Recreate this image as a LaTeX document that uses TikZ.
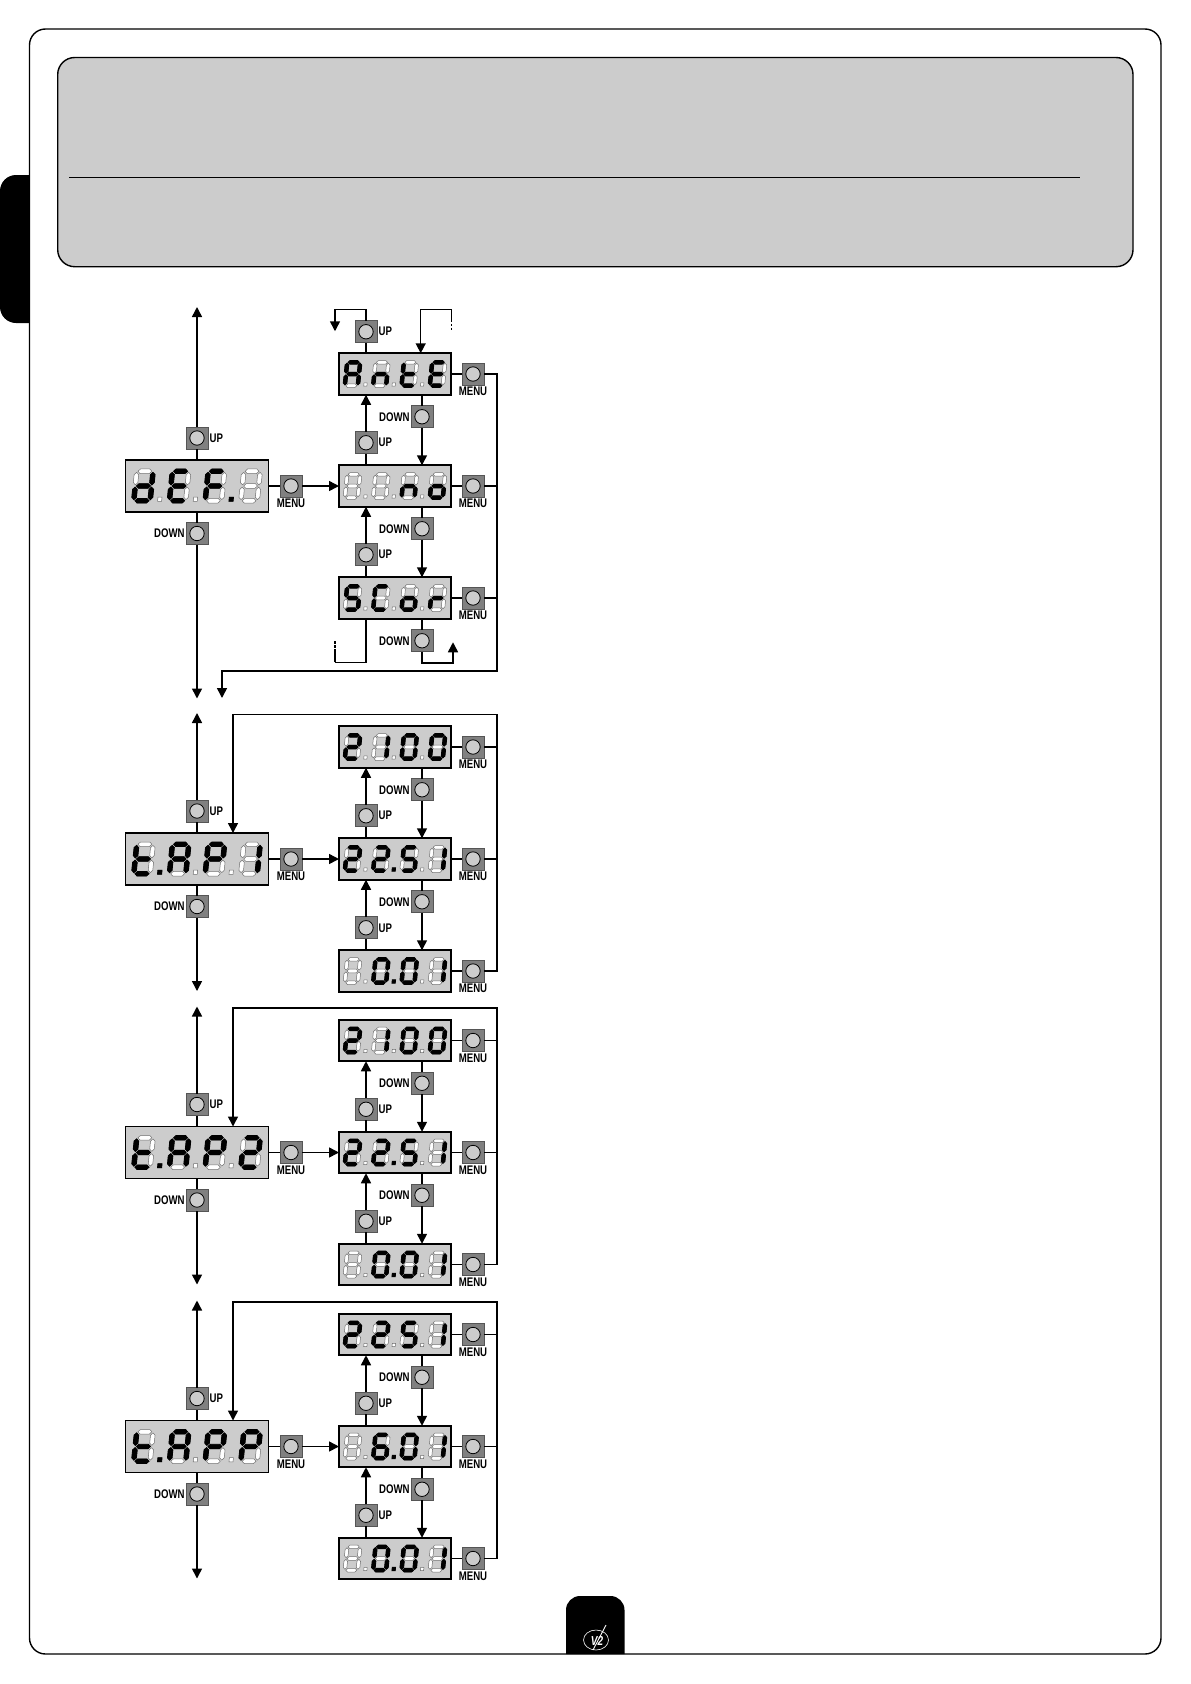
\documentclass[tikz,border=0pt]{standalone}
\usepackage{fontspec}
\setsansfont[FakeStretch=0.77]{Liberation Sans}
\usetikzlibrary{arrows.meta,positioning}
\definecolor{panel}{HTML}{CCCCCC}
\definecolor{keygrey}{HTML}{808080}
\definecolor{keyedge}{HTML}{555555}
\definecolor{segdim}{HTML}{707070}
\newcommand{\hseg}[1]{(-5.5,#1)--(-3.7,#1-1.8)--(3.7,#1-1.8)--(5.5,#1)--(3.7,#1+1.8)--(-3.7,#1+1.8)--cycle}
\newcommand{\vseg}[3]{(#1,#2)--(#1+1.8,#2+1.8)--(#1+1.8,#3-1.8)--(#1,#3)--(#1-1.8,#3-1.8)--(#1-1.8,#2+1.8)--cycle}
\tikzset{
  seg a/.pic={\path[pic actions] \hseg{-11.7};},
  seg b/.pic={\path[pic actions] \vseg{6.5}{-10.8}{-0.9};},
  seg c/.pic={\path[pic actions] \vseg{6.5}{0.9}{10.8};},
  seg d/.pic={\path[pic actions] \hseg{11.7};},
  seg e/.pic={\path[pic actions] \vseg{-6.5}{0.9}{10.8};},
  seg f/.pic={\path[pic actions] \vseg{-6.5}{-10.8}{-0.9};},
  seg g/.pic={\path[pic actions] \hseg{0};},
  seg p/.pic={\path[pic actions] (12.4,8.9) rectangle (15.6,12.1);},
  seg x/.pic={},
  segoff/.style={transform shape,fill=white,draw=segdim,line width=.5pt},
  segon/.style={transform shape,fill=black,draw=black,line width=.9pt},
  base/.style={rectangle,draw=black,line width=1.7pt,fill=panel,outer sep=0pt,inner sep=0pt},
  bigdisp/.style={base,minimum width=143pt,minimum height=52pt},
  smalldisp/.style={base,minimum width=112pt,minimum height=41.5pt},
  btntext/.style={font=\sffamily\bfseries\fontsize{12.5}{12.5}\selectfont,inner sep=0pt,text=black},
  btn/.style={rectangle,draw=keyedge,line width=.8pt,fill=keygrey,minimum size=22pt,inner sep=0pt,outer sep=0pt,
    path picture={\draw[fill=panel,draw=black,line width=.8pt] (path picture bounding box.center) circle (7.2pt);}},
  btnup/.style={btn,label={[btntext,label distance=1.5pt]right:UP}},
  btndown/.style={btn,label={[btntext,label distance=1.2pt]left:DOWN}},
  btnmenu/.style={btn,label={[btntext,label distance=2pt]below:MENU}},
  wire/.style={line width=1.5pt,draw=black},
  flow/.style={wire,-{Triangle[length=10pt,width=10pt]}},
  dashwire/.style={wire,dash pattern=on 13pt off 1.5pt on 2.5pt off 1.5pt on 2.5pt},
}
\newcommand{\segdigit}[3]{%
  \begin{scope}[shift={(#1,0)},xslant=.1]
    \foreach \s in {#2} \pic[segoff] {seg \s};
    \foreach \s in {#3} \pic[segon] {seg \s};
  \end{scope}}
\newcommand{\segdisp}[6]{%
  \begin{scope}[shift={(#1.center)},scale=#2]
    \segdigit{-42.5}{a,...,g,p}{#3}
    \segdigit{-14.2}{a,...,g,p}{#4}
    \segdigit{14.2}{a,...,g,p}{#5}
    \segdigit{42.5}{a,...,g}{#6}
  \end{scope}}

\begin{document}
\begin{tikzpicture}[x=1pt,y=-1pt]
\useasboundingbox (0,0) rectangle (1191,1684);

% page frame and header
\fill[black] (29.5,175) [rounded corners=16pt] -- (0,175) -- (0,323) [sharp corners] -- (29.5,323) -- cycle;
\fill[black] (566,1654) [rounded corners=14pt] -- (566,1596) -- (624.5,1596) [sharp corners] -- (624.5,1654) -- cycle;
\draw[line width=1.4pt,rounded corners=16pt] (29.5,29) rectangle (1161,1654);
\draw[line width=1.4pt,fill=panel,rounded corners=17pt] (57.7,57.5) rectangle (1133,266.7);
\draw[line width=.8pt] (69,177) -- (1080,177);
\node[inner sep=0pt,text=white,font=\sffamily\bfseries\itshape\fontsize{13}{13}\selectfont] (logo) at (597,1641) {V2};
\draw[white,line width=.6pt] (596,1640) ellipse (12.5 and 10);
\draw[white,line width=.9pt] (593,1650) -- (606,1625);

% def menu
\node[bigdisp] (def) at (197,486) {};
\node[btnup,above=11pt of def] (defup) {};
\node[btndown,below=10.5pt of def] (defdown) {};
\node[btnmenu,right=11.5pt of def] (defmenu) {};
\node[smalldisp,right=37pt of defmenu] (no) {};
\node[smalldisp,above=70.5pt of no] (ante) {};
\node[smalldisp,below=70.5pt of no] (scor) {};
\node[btnup,above=10.5pt of ante,xshift=-29pt] (anteup) {};
\node[btndown,below=11pt of ante,xshift=27pt] (antedown) {};
\node[btnup,above=11.5pt of no,xshift=-29pt] (noup) {};
\node[btndown,below=11pt of no,xshift=27pt] (nodown) {};
\node[btnup,above=11.5pt of scor,xshift=-29pt] (scorup) {};
\node[btndown,below=11pt of scor,xshift=27pt] (scordown) {};
\node[btnmenu,right=11pt of ante] (antemenu) {};
\node[btnmenu,right=11pt of no] (nomenu) {};
\node[btnmenu,right=11pt of scor] (scormenu) {};
\coordinate[above=120pt of defup.north] (deftop);
\coordinate[below=154pt of defdown.south] (defbottom);
\coordinate[right=13pt of antemenu.east] (anterail);
\coordinate (defturn) at (222,671);
\coordinate[below=27pt of defturn] (defback);
\coordinate[above left=22.5pt and 31pt of anteup.center] (antecorner);
\coordinate[below=22pt of antecorner] (antedrop);
\coordinate[right=25.7pt of ante.north] (antein);
\coordinate[above=44pt of antein] (anteturn);
\coordinate[right=31pt of anteturn] (antewrap);
\coordinate[below=21pt of antewrap] (anteend);
\coordinate[below left=43.7pt and 29pt of scor.south] (scorturn);
\coordinate[left=31pt of scorturn] (scorwrap);
\coordinate[above=21pt of scorwrap] (scorend);
\coordinate[below right=22pt and 31pt of scordown.center] (scorcorner);
\coordinate[above=20.5pt of scorcorner] (scorrise);

\draw[wire] (def) -- (defup);
\draw[flow] (defup) -- (deftop);
\draw[wire] (def) -- (defdown);
\draw[flow] (defdown) -- (defbottom);
\draw[wire] (def) -- (defmenu);
\draw[flow] (defmenu) -- (no);
\draw[wire] (ante.north -| anteup) -- (anteup);
\draw[flow] (anteup) |- (antecorner) -- (antedrop);
\draw[flow] (antewrap) -- (anteturn) -- (antein);
\draw[dashwire] (antewrap) -- (anteend);
\draw[wire] (ante.south -| antedown) -- (antedown);
\draw[flow] (antedown) -- (antedown |- no.north);
\draw[wire] (no.north -| noup) -- (noup);
\draw[flow] (noup) -- (noup |- ante.south);
\draw[wire] (no.south -| nodown) -- (nodown);
\draw[flow] (nodown) -- (nodown |- scor.north);
\draw[wire] (scor.north -| scorup) -- (scorup);
\draw[flow] (scorup) -- (scorup |- no.south);
\draw[wire] (scor.south -| scordown) -- (scordown);
\draw[flow] (scordown) |- (scorcorner) -- (scorrise);
\draw[wire] (scor.south -| scorturn) -- (scorturn) -- (scorwrap);
\draw[dashwire] (scorwrap) -- (scorend);
\draw[wire] (ante) -- (antemenu);
\draw[wire] (no) -- (nomenu);
\draw[wire] (scor) -- (scormenu);
\draw[wire] (nomenu) -- (nomenu -| anterail);
\draw[wire] (scormenu) -- (scormenu -| anterail);
\draw[flow] (antemenu) -- (anterail) |- (defturn) -- (defback);

\segdisp{def}{1.26}{b,c,d,e,g}{a,d,e,f,g}{a,e,f,g,p}{x}
\segdisp{ante}{1}{a,b,c,e,f,g}{c,e,g}{d,e,f,g}{a,d,e,f,g}
\segdisp{no}{1}{x}{x}{c,e,g}{c,d,e,g}
\segdisp{scor}{1}{a,c,d,f,g}{a,d,e,f}{c,d,e,g}{e,g}

% tap1 menu
\node[bigdisp] (tapa) at (197,859) {};
\node[btnup,above=11pt of tapa] (tapaup) {};
\node[btndown,below=10.5pt of tapa] (tapadown) {};
\node[btnmenu,right=11.5pt of tapa] (tapamenu) {};
\node[smalldisp,right=37pt of tapamenu] (tapamid) {};
\node[smalldisp,above=70.5pt of tapamid] (tapatop) {};
\node[smalldisp,below=70.5pt of tapamid] (tapalow) {};
\node[btndown,below=11pt of tapatop,xshift=27pt] (tapatopdown) {};
\node[btnup,above=11.5pt of tapamid,xshift=-29pt] (tapamidup) {};
\node[btndown,below=11pt of tapamid,xshift=27pt] (tapamiddown) {};
\node[btnup,above=11.5pt of tapalow,xshift=-29pt] (tapalowup) {};
\node[btnmenu,right=11pt of tapatop] (tapatopmenu) {};
\node[btnmenu,right=11pt of tapamid] (tapamidmenu) {};
\node[btnmenu,right=11pt of tapalow] (tapalowmenu) {};
\coordinate[above=87pt of tapaup.north] (tapatip);
\coordinate[below=73.5pt of tapadown.south] (tapaend);
\coordinate[right=13pt of tapalowmenu.east] (tapalowrail);
\coordinate[right=36pt of tapa.north] (tapain);
\coordinate[above=118.5pt of tapain] (tapaturn);

\draw[wire] (tapa) -- (tapaup);
\draw[flow] (tapaup) -- (tapatip);
\draw[wire] (tapa) -- (tapadown);
\draw[flow] (tapadown) -- (tapaend);
\draw[wire] (tapa) -- (tapamenu);
\draw[flow] (tapamenu) -- (tapamid);
\draw[wire] (tapatop.south -| tapatopdown) -- (tapatopdown);
\draw[flow] (tapatopdown) -- (tapatopdown |- tapamid.north);
\draw[wire] (tapamid.north -| tapamidup) -- (tapamidup);
\draw[flow] (tapamidup) -- (tapamidup |- tapatop.south);
\draw[wire] (tapamid.south -| tapamiddown) -- (tapamiddown);
\draw[flow] (tapamiddown) -- (tapamiddown |- tapalow.north);
\draw[wire] (tapalow.north -| tapalowup) -- (tapalowup);
\draw[flow] (tapalowup) -- (tapalowup |- tapamid.south);
\draw[wire] (tapatop) -- (tapatopmenu);
\draw[wire] (tapamid) -- (tapamidmenu);
\draw[wire] (tapalow) -- (tapalowmenu);
\draw[wire] (tapatopmenu) -- (tapatopmenu -| tapalowrail);
\draw[wire] (tapamidmenu) -- (tapamidmenu -| tapalowrail);
\draw[flow] (tapalowmenu) -- (tapalowrail) |- (tapaturn) -- (tapain);

\segdisp{tapa}{1.26}{d,e,f,g,p}{a,b,c,e,f,g}{a,b,e,f,g}{b,c}
\segdisp{tapatop}{1}{a,b,d,e,g}{b,c}{a,b,c,d,e,f}{a,b,c,d,e,f}
\segdisp{tapamid}{1}{a,b,d,e,g}{a,b,d,e,g,p}{a,c,d,f,g}{b,c}
\segdisp{tapalow}{1}{x}{a,b,c,d,e,f,p}{a,b,c,d,e,f}{b,c}

% tap2 menu
\node[bigdisp] (tapb) at (197,1152.5) {};
\node[btnup,above=11pt of tapb] (tapbup) {};
\node[btndown,below=10.5pt of tapb] (tapbdown) {};
\node[btnmenu,right=11.5pt of tapb] (tapbmenu) {};
\node[smalldisp,right=37pt of tapbmenu] (tapbmid) {};
\node[smalldisp,above=70.5pt of tapbmid] (tapbtop) {};
\node[smalldisp,below=70.5pt of tapbmid] (tapblow) {};
\node[btndown,below=11pt of tapbtop,xshift=27pt] (tapbtopdown) {};
\node[btnup,above=11.5pt of tapbmid,xshift=-29pt] (tapbmidup) {};
\node[btndown,below=11pt of tapbmid,xshift=27pt] (tapbmiddown) {};
\node[btnup,above=11.5pt of tapblow,xshift=-29pt] (tapblowup) {};
\node[btnmenu,right=11pt of tapbtop] (tapbtopmenu) {};
\node[btnmenu,right=11pt of tapbmid] (tapbmidmenu) {};
\node[btnmenu,right=11pt of tapblow] (tapblowmenu) {};
\coordinate[above=87pt of tapbup.north] (tapbtip);
\coordinate[below=73.5pt of tapbdown.south] (tapbend);
\coordinate[right=13pt of tapblowmenu.east] (tapblowrail);
\coordinate[right=36pt of tapb.north] (tapbin);
\coordinate[above=118.5pt of tapbin] (tapbturn);

\draw[wire] (tapb) -- (tapbup);
\draw[flow] (tapbup) -- (tapbtip);
\draw[wire] (tapb) -- (tapbdown);
\draw[flow] (tapbdown) -- (tapbend);
\draw[wire] (tapb) -- (tapbmenu);
\draw[flow] (tapbmenu) -- (tapbmid);
\draw[wire] (tapbtop.south -| tapbtopdown) -- (tapbtopdown);
\draw[flow] (tapbtopdown) -- (tapbtopdown |- tapbmid.north);
\draw[wire] (tapbmid.north -| tapbmidup) -- (tapbmidup);
\draw[flow] (tapbmidup) -- (tapbmidup |- tapbtop.south);
\draw[wire] (tapbmid.south -| tapbmiddown) -- (tapbmiddown);
\draw[flow] (tapbmiddown) -- (tapbmiddown |- tapblow.north);
\draw[wire] (tapblow.north -| tapblowup) -- (tapblowup);
\draw[flow] (tapblowup) -- (tapblowup |- tapbmid.south);
\draw[wire] (tapbtop) -- (tapbtopmenu);
\draw[wire] (tapbmid) -- (tapbmidmenu);
\draw[wire] (tapblow) -- (tapblowmenu);
\draw[wire] (tapbtopmenu) -- (tapbtopmenu -| tapblowrail);
\draw[wire] (tapbmidmenu) -- (tapbmidmenu -| tapblowrail);
\draw[flow] (tapblowmenu) -- (tapblowrail) |- (tapbturn) -- (tapbin);

\segdisp{tapb}{1.26}{d,e,f,g,p}{a,b,c,e,f,g}{a,b,e,f,g}{a,b,d,e,g}
\segdisp{tapbtop}{1}{a,b,d,e,g}{b,c}{a,b,c,d,e,f}{a,b,c,d,e,f}
\segdisp{tapbmid}{1}{a,b,d,e,g}{a,b,d,e,g,p}{a,c,d,f,g}{b,c}
\segdisp{tapblow}{1}{x}{a,b,c,d,e,f,p}{a,b,c,d,e,f}{b,c}

% tapp menu
\node[bigdisp] (tapp) at (197,1446.5) {};
\node[btnup,above=11pt of tapp] (tappup) {};
\node[btndown,below=10.5pt of tapp] (tappdown) {};
\node[btnmenu,right=11.5pt of tapp] (tappmenu) {};
\node[smalldisp,right=37pt of tappmenu] (tappmid) {};
\node[smalldisp,above=70.5pt of tappmid] (tapptop) {};
\node[smalldisp,below=70.5pt of tappmid] (tapplow) {};
\node[btndown,below=11pt of tapptop,xshift=27pt] (tapptopdown) {};
\node[btnup,above=11.5pt of tappmid,xshift=-29pt] (tappmidup) {};
\node[btndown,below=11pt of tappmid,xshift=27pt] (tappmiddown) {};
\node[btnup,above=11.5pt of tapplow,xshift=-29pt] (tapplowup) {};
\node[btnmenu,right=11pt of tapptop] (tapptopmenu) {};
\node[btnmenu,right=11pt of tappmid] (tappmidmenu) {};
\node[btnmenu,right=11pt of tapplow] (tapplowmenu) {};
\coordinate[above=87pt of tappup.north] (tapptip);
\coordinate[below=73.5pt of tappdown.south] (tappend);
\coordinate[right=13pt of tapplowmenu.east] (tapplowrail);
\coordinate[right=36pt of tapp.north] (tappin);
\coordinate[above=118.5pt of tappin] (tappturn);

\draw[wire] (tapp) -- (tappup);
\draw[flow] (tappup) -- (tapptip);
\draw[wire] (tapp) -- (tappdown);
\draw[flow] (tappdown) -- (tappend);
\draw[wire] (tapp) -- (tappmenu);
\draw[flow] (tappmenu) -- (tappmid);
\draw[wire] (tapptop.south -| tapptopdown) -- (tapptopdown);
\draw[flow] (tapptopdown) -- (tapptopdown |- tappmid.north);
\draw[wire] (tappmid.north -| tappmidup) -- (tappmidup);
\draw[flow] (tappmidup) -- (tappmidup |- tapptop.south);
\draw[wire] (tappmid.south -| tappmiddown) -- (tappmiddown);
\draw[flow] (tappmiddown) -- (tappmiddown |- tapplow.north);
\draw[wire] (tapplow.north -| tapplowup) -- (tapplowup);
\draw[flow] (tapplowup) -- (tapplowup |- tappmid.south);
\draw[wire] (tapptop) -- (tapptopmenu);
\draw[wire] (tappmid) -- (tappmidmenu);
\draw[wire] (tapplow) -- (tapplowmenu);
\draw[wire] (tapptopmenu) -- (tapptopmenu -| tapplowrail);
\draw[wire] (tappmidmenu) -- (tappmidmenu -| tapplowrail);
\draw[flow] (tapplowmenu) -- (tapplowrail) |- (tappturn) -- (tappin);

\segdisp{tapp}{1.26}{d,e,f,g,p}{a,b,c,e,f,g}{a,b,e,f,g}{a,b,e,f,g}
\segdisp{tapptop}{1}{a,b,d,e,g}{a,b,d,e,g}{a,c,d,f,g}{b,c}
\segdisp{tappmid}{1}{x}{a,c,d,e,f,g,p}{a,b,c,d,e,f}{b,c}
\segdisp{tapplow}{1}{x}{a,b,c,d,e,f,p}{a,b,c,d,e,f}{b,c}
\end{tikzpicture}
\end{document}
